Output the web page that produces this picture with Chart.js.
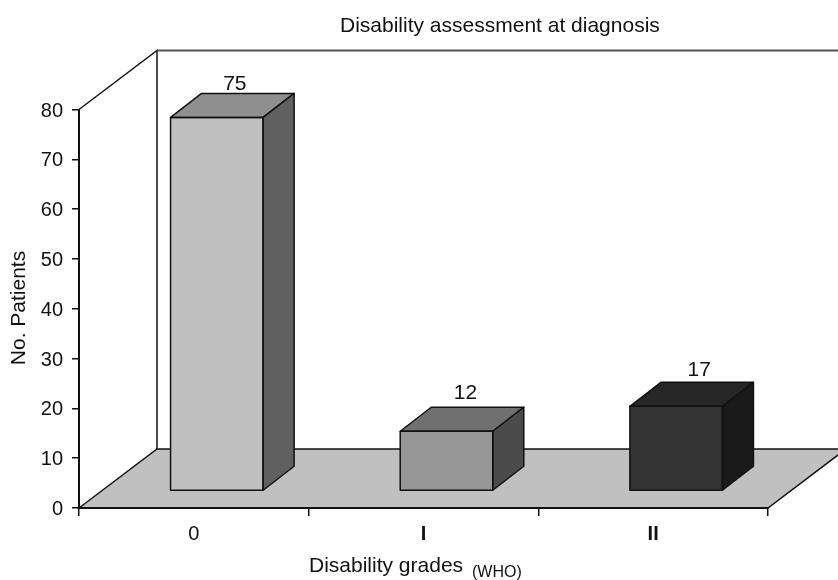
<!DOCTYPE html>
<html>
<head>
<meta charset="utf-8">
<style>
  html, body { margin: 0; padding: 0; background: #fff; }
  canvas { display: block; }
</style>
<script src="https://cdn.jsdelivr.net/npm/chart.js@4/dist/chart.umd.min.js"></script>
</head>
<body>
<canvas id="chart" width="838" height="580"></canvas>
<script>
const grades = ["0", "I", "II"];
const patients = [75, 12, 17];
const frontColors = ["#c0c0c0", "#969696", "#333333"];
const topColors = ["#8f8f8f", "#707070", "#262626"];
const sideColors = ["#606060", "#4b4b4b", "#1a1a1a"];
// the value labels do not sit at the same spot on each box
const labelNudgeX = [18, 19, 23];
const labelGap = [3, 8, 6];

const fontName = '"Liberation Sans", Arial, sans-serif';
const edge = "#111111";

// depth of the fake 3d box: back wall and bar
const wallX = 78, wallY = -59;
const barShiftX = 23, barShiftY = -17;
const barDepthX = 31, barDepthY = -24;

const fake3d = {
  id: "fake3d",
  // floor goes under the axes
  beforeDraw(chart) {
    const { ctx, chartArea: a } = chart;
    ctx.save();
    ctx.beginPath();
    ctx.moveTo(a.left, a.bottom);
    ctx.lineTo(a.left + wallX, a.bottom + wallY);
    ctx.lineTo(a.right + wallX, a.bottom + wallY);
    ctx.lineTo(a.right, a.bottom);
    ctx.closePath();
    ctx.fillStyle = "#c0c0c0";
    ctx.fill();
    ctx.strokeStyle = edge;
    ctx.lineWidth = 1.5;
    ctx.stroke();

    // side wall and back wall
    ctx.beginPath();
    ctx.moveTo(a.left, a.top);
    ctx.lineTo(a.left + wallX, a.top + wallY);
    ctx.lineTo(a.left + wallX, a.bottom + wallY);
    ctx.stroke();
    ctx.beginPath();
    ctx.moveTo(a.left + wallX, a.top + wallY);
    ctx.lineTo(chart.width, a.top + wallY);
    ctx.strokeStyle = "#555555";
    ctx.lineWidth = 2;
    ctx.stroke();
    ctx.restore();
  },
  beforeDatasetDraw(chart) {
    chart.ctx.save();
    chart.ctx.translate(barShiftX, barShiftY);
  },
  afterDatasetDraw(chart, args) {
    const ctx = chart.ctx;
    args.meta.data.forEach((bar, i) => {
      const l = bar.x - bar.width / 2, r = bar.x + bar.width / 2;
      ctx.lineWidth = 1.5;
      ctx.strokeStyle = edge;
      ctx.lineJoin = "round";

      ctx.beginPath();
      ctx.moveTo(l, bar.y);
      ctx.lineTo(l + barDepthX, bar.y + barDepthY);
      ctx.lineTo(r + barDepthX, bar.y + barDepthY);
      ctx.lineTo(r, bar.y);
      ctx.closePath();
      ctx.fillStyle = topColors[i];
      ctx.fill();
      ctx.stroke();

      ctx.beginPath();
      ctx.moveTo(r, bar.y);
      ctx.lineTo(r + barDepthX, bar.y + barDepthY);
      ctx.lineTo(r + barDepthX, bar.base + barDepthY);
      ctx.lineTo(r, bar.base);
      ctx.closePath();
      ctx.fillStyle = sideColors[i];
      ctx.fill();
      ctx.stroke();

      // outline of the front, centred on the bar edge
      ctx.strokeRect(l, bar.y, bar.width, bar.base - bar.y);

      // value over the box
      ctx.fillStyle = "#111";
      ctx.font = "21px " + fontName;
      ctx.textAlign = "center";
      ctx.textBaseline = "alphabetic";
      ctx.fillText(String(patients[i]), bar.x + labelNudgeX[i], bar.y + barDepthY - labelGap[i]);
    });
    ctx.restore();
  },
  afterDraw(chart) {
    const ctx = chart.ctx;
    const yScale = chart.scales.y;
    ctx.save();
    ctx.fillStyle = "#111";
    ctx.textBaseline = "alphabetic";

    // y tick labels sit lower than the library would put them
    ctx.textAlign = "right";
    ctx.font = "20px " + fontName;
    yScale.ticks.forEach((t) => {
      ctx.fillText(String(t.value), 63, yScale.getPixelForValue(t.value) + 7);
    });

    ctx.textAlign = "left";
    ctx.font = "21px " + fontName;
    ctx.fillText("Disability assessment at diagnosis", 340, 32);
    ctx.fillText("Disability grades", 309, 572);
    ctx.font = "16px " + fontName;
    ctx.fillText("(WHO)", 472, 577);

    ctx.translate(25, 308);
    ctx.rotate(-Math.PI / 2);
    ctx.textAlign = "center";
    ctx.font = "21px " + fontName;
    ctx.fillText("No. Patients", 0, 0);
    ctx.restore();
  }
};

new Chart(document.getElementById("chart"), {
  type: "bar",
  plugins: [fake3d],
  data: {
    labels: grades,
    datasets: [{
      data: patients,
      backgroundColor: frontColors,
      borderWidth: 0,
      barPercentage: 0.403,
      categoryPercentage: 1,
      clip: false
    }]
  },
  options: {
    responsive: false,
    animation: false,
    layout: { padding: { left: 29, right: 70, top: 109.5, bottom: 32 } },
    plugins: {
      legend: { display: false },
      tooltip: { enabled: false }
    },
    scales: {
      x: {
        afterFit: (s) => { s.height = 40; },
        border: { color: edge, width: 2 },
        grid: { drawOnChartArea: false, offset: true, tickLength: 8, color: edge, lineWidth: 1.5 },
        ticks: {
          color: "#111",
          // the roman grades are printed heavier than the 0
          font: (c) => ({ family: fontName, size: 20, weight: c.index > 0 ? "bold" : "normal" }),
          padding: 6,
          maxRotation: 0
        }
      },
      y: {
        min: 0,
        max: 80,
        afterFit: (s) => { s.width = 50; },
        border: { color: edge, width: 2 },
        grid: { drawOnChartArea: false, tickLength: 7, color: edge, lineWidth: 1.5 },
        ticks: { stepSize: 10, display: false }
      }
    }
  }
});
</script>
</body>
</html>
